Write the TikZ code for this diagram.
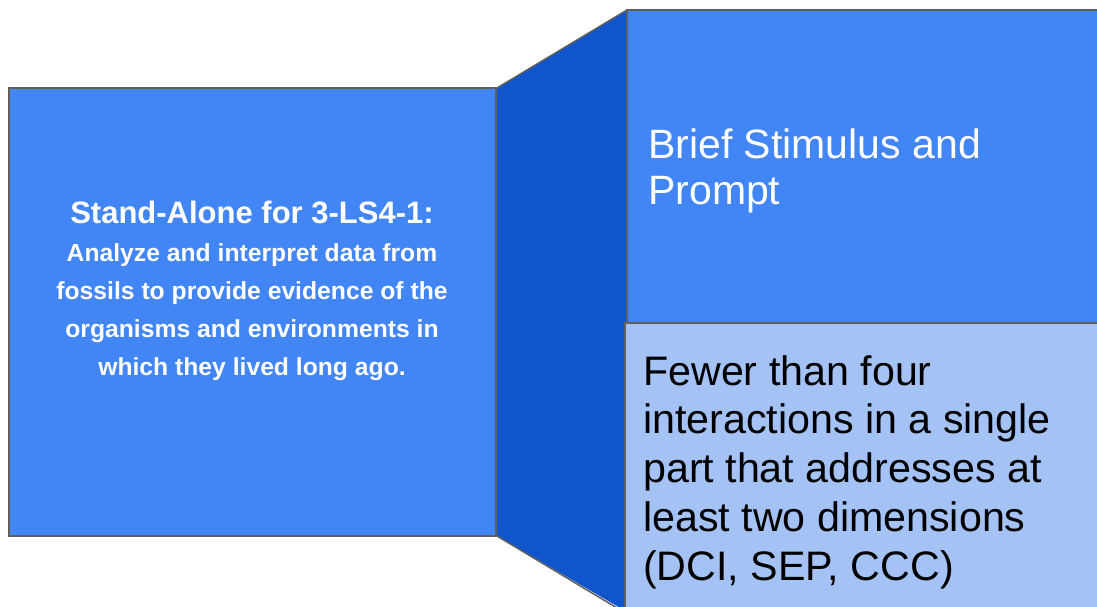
\documentclass[tikz,border=0pt]{standalone}
\usepackage{fontspec}
\setmainfont{Liberation Sans}
\definecolor{gblue}{HTML}{4285F4}
\definecolor{gdark}{HTML}{1155CC}
\definecolor{glight}{HTML}{A4C2F4}
\definecolor{edge}{HTML}{5F5F5F}
\begin{document}
\begin{tikzpicture}[x=1pt,y=-1pt,
  panel/.style={draw=edge,line width=1.5pt},
  lefttext/.style={text=white,align=center,inner sep=0pt},
  righttext/.style={align=left,inner sep=0pt,anchor=base west}]
\useasboundingbox (0,0) rectangle (1097,607);
% coordinates
\coordinate (L1) at (9,88);
\coordinate (L2) at (496,536);
\coordinate (T1) at (627,10);
\coordinate (T2) at (1100,323);
\coordinate (B1) at (625,323);
\coordinate (B2) at (1100,612);
% connector trapezoid
\fill[gdark] (497,88) -- (T1) -- (627,612) -- (497,536) -- cycle;
\draw[edge,line width=1.5pt] (497,88) -- (T1);
\draw[edge,line width=1.5pt] (497,536) -- (627,614);
% boxes
\draw[panel,fill=gblue] (L1) rectangle (L2);
\draw[panel,fill=gblue] (T1) rectangle (T2);
\draw[panel,fill=glight] (B1) rectangle (B2);
% texts (base anchor = baseline of last line)
\node[lefttext,anchor=base,font=\bfseries\fontsize{31}{35}\selectfont] (lt) at (252,223) {Stand-Alone for 3-LS4-1:};
\node[lefttext,anchor=base,font=\bfseries\fontsize{24.7}{37.7}\selectfont] (lb) at (252,375) {Analyze and interpret data from\\ fossils to provide evidence of the\\ organisms and environments in\\ which they lived long ago.};
\node[righttext,text=white,font=\fontsize{41}{46}\selectfont] (tt) at (648,204) {Brief Stimulus and\\ Prompt};
\node[righttext,text=black,font=\fontsize{41.2}{48.7}\selectfont] (bt) at (643,580) {Fewer than four\\ interactions in a single\\ part that addresses at\\ least two dimensions\\ (DCI, SEP, CCC)};
\end{tikzpicture}
\end{document}
